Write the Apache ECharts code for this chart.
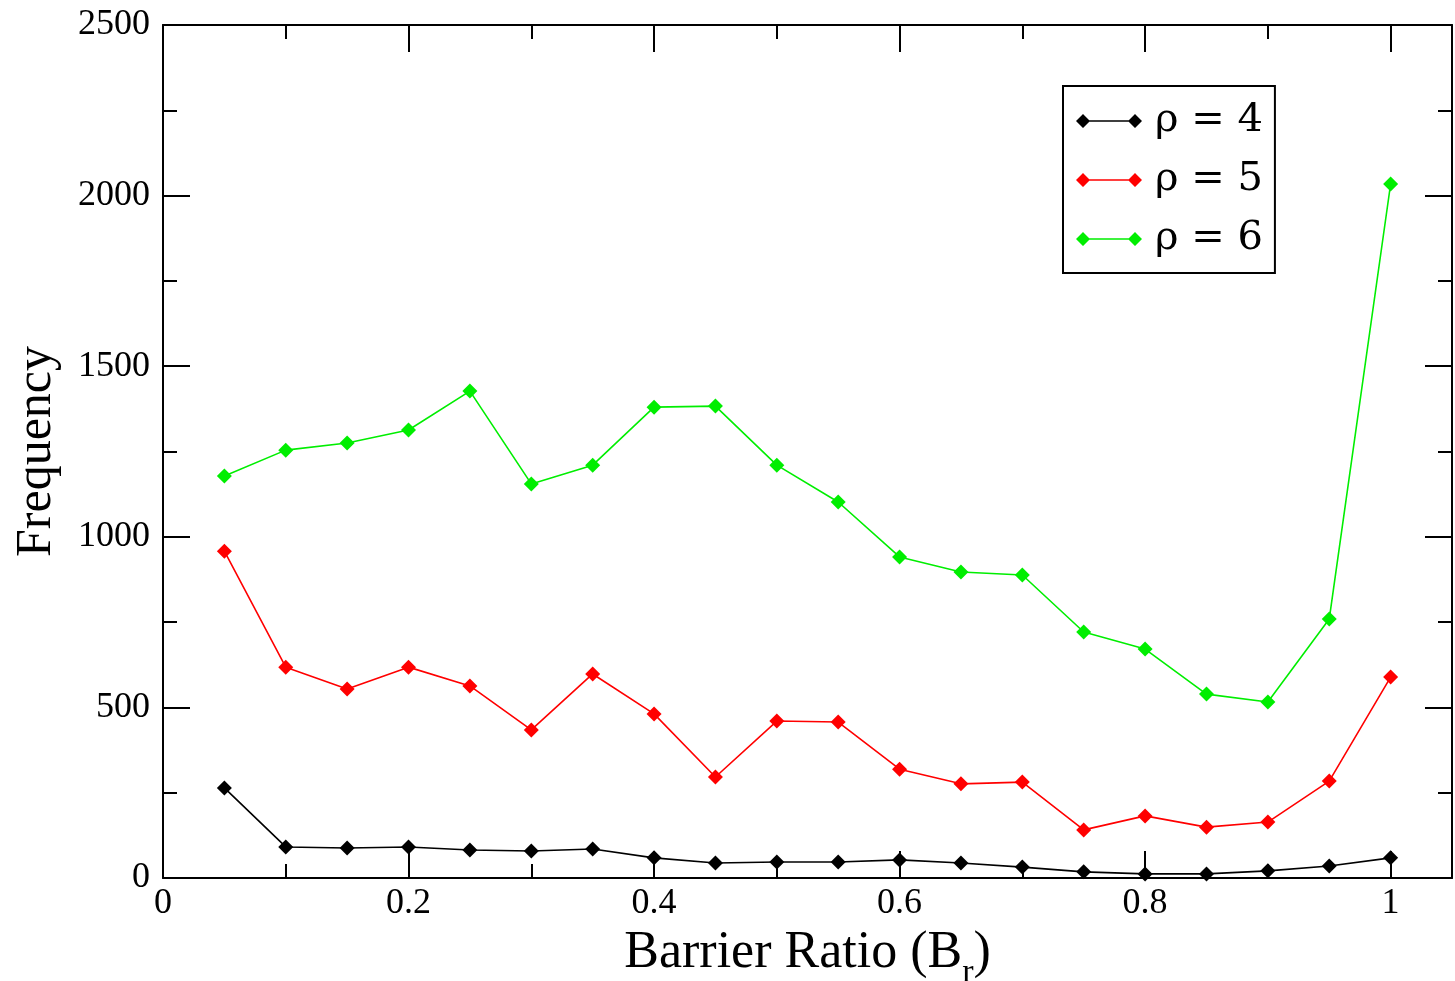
<!DOCTYPE html>
<html>
<head>
<meta charset="utf-8">
<script src="https://cdn.jsdelivr.net/npm/echarts@6/dist/echarts.min.js"></script>
<style>html,body{margin:0;padding:0;background:#fff;}#c{width:1455px;height:981px;}</style>
</head>
<body>
<div id="c"></div>
<script>
const xValues = [0.05,0.1,0.15,0.2,0.25,0.3,0.35,0.4,0.45,0.5,0.55,0.6,0.65,0.7,0.75,0.8,0.85,0.9,0.95,1.0];
const rho4 = [264,91,88,91,82,79,85,59,44,47,47,53,44,32,18,12,12,21,35,59];
const rho5 = [958,618,554,618,563,434,598,481,296,460,457,319,276,281,141,182,149,164,284,589];
const rho6 = [1178,1254,1275,1313,1427,1155,1210,1380,1383,1210,1102,941,897,888,721,671,539,516,759,2034];
const seriesNames = ['ρ = 4','ρ = 5','ρ = 6'];
const seriesColors = ['#000000','#ff0000','#00ee00'];
const yTicks = [0,500,1000,1500,2000,2500];
const xTickLabels = ['0','0.2','0.4','0.6','0.8','1'];

const FONT = '"Liberation Serif", "Times New Roman", serif';
const chart = echarts.init(document.getElementById('c'));

function pairs(arr){ return xValues.map((x,i)=>[x,arr[i]]); }

const icon = 'path://M0,7 L7,0 L14,7 L7,14 Z M52,7 L59,0 L66,7 L59,14 Z M7,6.2 L59,6.2 L59,7.8 L7,7.8 Z';

function xAx(pos, interval, len, showLabel, showLine){
  return {
    type:'value', position:pos, min:0, max:1.05, interval:interval,
    axisLine:{show:showLine, onZero:false, lineStyle:{color:'#000', width:2}},
    axisTick:{show:true, inside:true, length:len, lineStyle:{color:'#000', width:2}},
    axisLabel:{show:showLabel, fontFamily:FONT, fontSize:36, color:'#000', margin:8,
      formatter:function(v){ const k=Math.round(v/0.2); if(Math.abs(v-k*0.2)>1e-6) return ''; return xTickLabels[k]||''; }},
    splitLine:{show:false}
  };
}
function yAx(pos, showLabel){
  return {
    type:'value', position:pos, min:0, max:2500, interval:500,
    axisLine:{show:true, onZero:false, lineStyle:{color:'#000', width:2}},
    axisTick:{show:true, inside:true, length:27, lineStyle:{color:'#000', width:2}},
    minorTick:{show:true, splitNumber:2, length:14, lineStyle:{color:'#000', width:2}},
    axisLabel:{show:showLabel, fontFamily:FONT, fontSize:36, color:'#000', margin:13,
      formatter:function(v){ const i=yTicks.indexOf(v); return i>=0? String(yTicks[i]) : ''; }},
    splitLine:{show:false}
  };
}

const xb = xAx('bottom',0.2,27,true,true);
xb.name = '{a|Barrier Ratio (B}{s|r}{a|)}';
xb.nameLocation = 'middle';
xb.nameGap = 31;
xb.nameTextStyle = {rich:{
  a:{fontFamily:FONT, fontSize:52, color:'#000', lineHeight:60, verticalAlign:'middle'},
  s:{fontFamily:FONT, fontSize:34, color:'#000', lineHeight:74, verticalAlign:'bottom'}
}};
const yl = yAx('left',true);
yl.name = 'Frequency';
yl.nameLocation = 'middle';
yl.nameGap = 101;
yl.nameTextStyle = {fontFamily:FONT, fontSize:50, color:'#000'};

chart.setOption({
  backgroundColor:'#fff',
  animation:false,
  grid:{left:163, right:3, top:25, bottom:103, containLabel:false, outerBoundsMode:'none'},
  xAxis:[ xb, xAx('bottom',0.1,14,false,false), xAx('top',0.2,27,false,true), xAx('top',0.1,14,false,false) ],
  yAxis:[ yl, yAx('right',false) ],
  legend:{
    orient:'vertical', left:1063, top:86,
    padding:[13,12,12,13], itemGap:15,
    itemWidth:66, itemHeight:14,
    borderColor:'#000', borderWidth:2, borderRadius:0,
    backgroundColor:'#fff',
    textStyle:{fontFamily:'"DejaVu Serif", serif', fontSize:40, color:'#000', lineHeight:44, padding:[0,0,0,8]},
    data: seriesNames.map(n=>({name:n, icon:icon}))
  },
  series:[rho4,rho5,rho6].map((arr,i)=>({
    name:seriesNames[i], type:'line', xAxisIndex:0, yAxisIndex:0,
    data:pairs(arr), symbol:'diamond', symbolSize:15,
    itemStyle:{color:seriesColors[i]},
    lineStyle:{color:seriesColors[i], width:1.6},
    z: 3-i
  }))
});
</script>
</body>
</html>
